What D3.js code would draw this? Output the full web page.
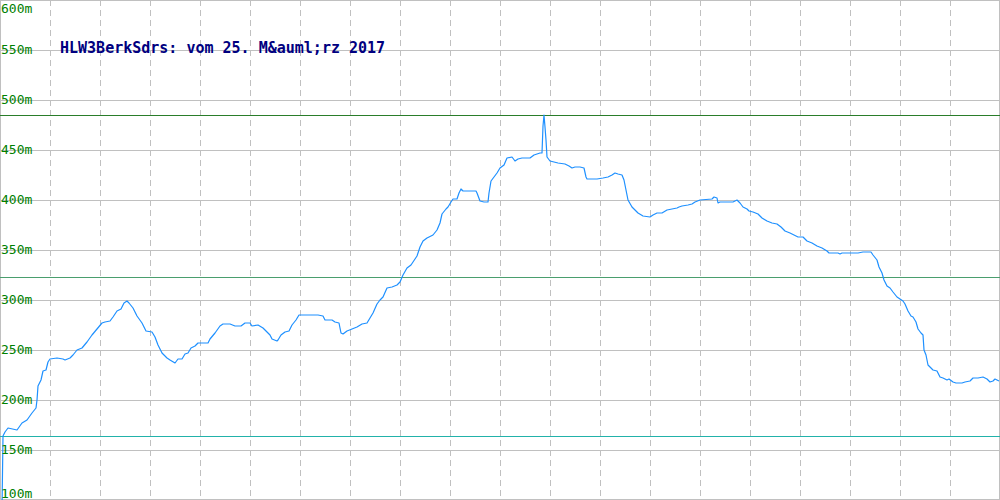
<!DOCTYPE html>
<html>
<head>
<meta charset="utf-8">
<script src="https://cdn.jsdelivr.net/npm/d3@7/dist/d3.min.js"></script>
<style>
html,body{margin:0;padding:0;background:#fff;}
svg{display:block;}
</style>
</head>
<body>
<svg id="chart" width="1000" height="500"></svg>
<script>
// ---- data ----
const title = "HLW3BerkSdrs: vom 25. M&auml;rz 2017";
const yTicks = [100, 150, 200, 250, 300, 350, 400, 450, 500, 550, 600];
const xGrid = [50,100,150,200,250,300,350,400,450,500,550,600,650,700,750,800,850,900,950];
// distance (chart units) and elevation (m)
const dist = [2,3,5,8,17,22,27,32,36,37,38,41,43,46,48,50,57,63,65,70,73,77,82,87,92,97,102,105,110,113,117,121,124,127,129,133,137,142,146,152,155,158,162,167,170,175,178,182,185,188,191,195,198,208,210,215,220,223,230,235,241,245,250,252,258,263,267,270,272,277,278,281,285,289,292,296,299,308,318,323,325,332,335,339,341,343,347,352,357,362,367,370,373,377,380,383,387,392,397,400,403,407,411,413,417,420,423,427,433,437,440,442,446,448,451,453,457,459,461,463,468,476,477,480,484,488,489,491,494,497,500,504,507,512,515,518,522,530,534,540,542,543,544,545,546,547,550,554,558,565,569,572,575,580,584,586,587,597,603,608,612,615,618,622,624,626,628,632,635,638,643,650,653,657,662,667,672,677,679,682,688,692,695,700,712,714,717,718,720,733,737,740,743,747,749,753,758,762,767,772,777,781,785,790,794,798,803,807,812,817,822,827,829,838,840,842,858,863,871,873,877,879,882,884,887,890,893,897,900,903,905,908,911,913,916,918,921,923,924,926,928,930,933,937,940,943,947,949,953,956,959,962,965,970,973,978,983,987,990,993,995,999];
const elev = [90,164,168,172,170,177,180,187,192,200,214,220,229,230,238,241,242,241,240,242,245,250,252,258,265,271,277,278,279,283,289,291,297,299,297,292,284,277,269,268,263,255,247,242,240,237,241,241,246,247,252,254,257,257,261,267,274,276,276,274,274,277,277,274,275,272,268,265,261,259,260,265,268,269,275,280,285,285,285,284,280,280,278,277,267,266,269,271,273,276,277,282,287,296,300,303,312,313,315,318,325,332,335,338,344,353,359,362,365,370,377,386,391,393,398,401,401,407,411,409,409,409,407,399,398,398,407,419,423,427,432,435,442,443,439,441,442,442,445,447,447,474,485,473,460,443,439,438,437,436,434,432,433,433,432,423,421,421,422,423,425,427,426,425,420,410,400,393,390,387,384,383,385,387,387,390,391,392,393,394,395,396,398,400,401,403,402,397,398,398,400,397,393,391,389,388,386,382,379,377,376,373,369,367,365,363,363,359,357,354,352,349,347,347,346,347,347,348,348,345,340,333,327,320,314,312,308,303,301,299,296,289,284,283,278,271,267,265,250,245,235,233,230,229,223,222,220,221,218,217,217,217,218,219,222,222,223,221,218,219,221,219];
// reference lines: maximum, mean, minimum (m)
const refValues = [485, 323, 164];
const refColors = ["#2a7d2a", "#4a9e6e", "#22b2aa"];

// ---- chart ----
const W = 1000, H = 500;
const svg = d3.select("#chart");
const x = d3.scaleLinear().domain([0, 1000]).range([0, W]);
const y = d3.scaleLinear().domain([100, 600]).range([H, 0]);

svg.append("defs").append("clipPath").attr("id", "clip")
  .append("rect").attr("x", 0).attr("y", 0).attr("width", W).attr("height", H);

// horizontal grid
svg.append("g")
  .selectAll("line").data(yTicks.filter(d => d > 100 && d < 600)).join("line")
  .attr("x1", 0).attr("x2", W)
  .attr("y1", d => Math.round(y(d)) + 0.5).attr("y2", d => Math.round(y(d)) + 0.5)
  .attr("stroke", "#c0c0c0").attr("stroke-width", 1);

// vertical dashed grid
svg.append("g")
  .selectAll("line").data(xGrid).join("line")
  .attr("x1", d => Math.round(x(d)) + 0.5).attr("x2", d => Math.round(x(d)) + 0.5)
  .attr("y1", 0).attr("y2", H)
  .attr("stroke", "#c0c0c0").attr("stroke-width", 1)
  .attr("stroke-dasharray", "6,4");

// frame
svg.append("rect").attr("x", 0.5).attr("y", 0.5).attr("width", W - 1).attr("height", H - 1)
  .attr("fill", "none").attr("stroke", "#c0c0c0").attr("stroke-width", 1);

// reference lines
svg.append("g")
  .selectAll("line").data(refValues).join("line")
  .attr("x1", 0).attr("x2", W)
  .attr("y1", d => Math.round(y(d)) + 0.5).attr("y2", d => Math.round(y(d)) + 0.5)
  .attr("stroke", (d, i) => refColors[i]).attr("stroke-width", 1);

// profile line
const pts = dist.map((d, i) => [d, elev[i]]);
svg.append("path")
  .datum(pts)
  .attr("clip-path", "url(#clip)")
  .attr("fill", "none")
  .attr("stroke", "#1e90ff")
  .attr("stroke-width", 1.2)
  .attr("stroke-linejoin", "round")
  .attr("d", d3.line().x(d => x(d[0])).y(d => y(d[1])));

// y labels
svg.append("g")
  .selectAll("text").data(yTicks).join("text")
  .attr("x", 1)
  .attr("y", d => Math.max(13, Math.min(498, y(d) + 4)))
  .attr("font-family", "DejaVu Sans Mono")
  .attr("font-size", 13)
  .attr("fill", "#008000")
  .text(d => d + "m");

// title
svg.append("text")
  .attr("x", 60).attr("y", 53)
  .attr("font-family", "DejaVu Sans Mono")
  .attr("font-weight", "bold")
  .attr("font-size", 15)
  .attr("fill", "#000080")
  .text(title);
</script>
</body>
</html>
